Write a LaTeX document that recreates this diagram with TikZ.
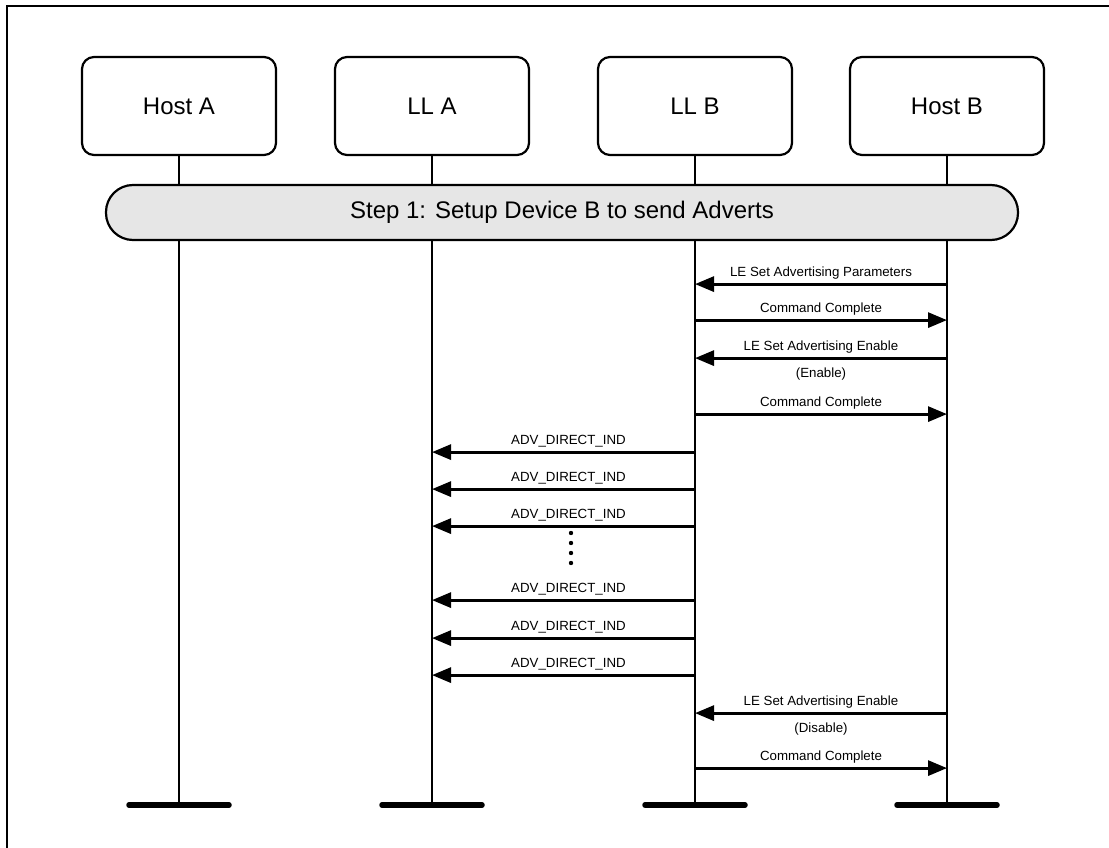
\documentclass[tikz,border=0pt]{standalone}
\usepackage{fontspec}
\setmainfont{Liberation Sans}
\usetikzlibrary{arrows.meta}
\definecolor{stepgray}{HTML}{E6E6E6}
\tikzset{
  actor/.style={draw, line width=2.2pt, rounded corners=12pt, minimum width=194pt, minimum height=98pt, inner sep=0pt, font=\fontsize{24}{28}\selectfont},
  stepbox/.style={draw, line width=2.2pt, fill=stepgray, rounded corners=27pt, minimum width=912pt, minimum height=55pt, inner sep=0pt, font=\fontsize{24}{28}\selectfont},
  life/.style={line width=2.2pt},
  endbar/.style={line width=5.5pt, line cap=round},
  msg/.style={line width=3pt, -{Triangle[length=19pt,width=15pt]}},
  lab/.style={font=\fontsize{13.3}{15}\selectfont, inner sep=0pt, anchor=base},
  frame/.style={line width=2.2pt}
}
\begin{document}
\begin{tikzpicture}[x=1pt,y=-1pt]
\useasboundingbox (0,0) rectangle (1109,848);
\draw[frame] (7,860) -- (7,6) -- (1120,6);
% actors
\node[actor] (hA) at (179,106) {Host A};
\node[actor] (lA) at (432,106) {LL A};
\node[actor] (lB) at (695,106) {LL B};
\node[actor] (hB) at (947,106) {Host B};
% lifeline ends
\coordinate (eA) at (179,805);
\coordinate (eLA) at (432,805);
\coordinate (eLB) at (695,805);
\coordinate (eB) at (947,805);
\draw[life] (hA.south) -- (eA);
\draw[life] (lA.south) -- (eLA);
\draw[life] (lB.south) -- (eLB);
\draw[life] (hB.south) -- (eB);
\draw[endbar] ([xshift=-50pt]eA) -- ([xshift=50pt]eA);
\draw[endbar] ([xshift=-50pt]eLA) -- ([xshift=50pt]eLA);
\draw[endbar] ([xshift=-50pt]eLB) -- ([xshift=50pt]eLB);
\draw[endbar] ([xshift=-50pt]eB) -- ([xshift=50pt]eB);
% step
\node[stepbox] (step) at (562,212.5) {Step 1: Setup Device B to send Adverts};
% messages Host B <-> LL B
\draw[msg] ([yshift=-128pt]hB.south) -- node[lab, yshift=8pt]{LE Set Advertising Parameters} ([yshift=-128pt]lB.south);
\draw[msg] ([yshift=-164pt]lB.south) -- node[lab, yshift=8pt]{Command Complete} ([yshift=-164pt]hB.south);
\draw[msg] ([yshift=-202pt]hB.south) -- node[lab, yshift=8pt]{LE Set Advertising Enable} node[lab, yshift=-19pt]{(Enable)} ([yshift=-202pt]lB.south);
\draw[msg] ([yshift=-258pt]lB.south) -- node[lab, yshift=8pt]{Command Complete} ([yshift=-258pt]hB.south);
% ADV_DIRECT_IND
\draw[msg] ([yshift=-296pt]lB.south) -- node[lab, yshift=8pt, xshift=5pt]{ADV\_DIRECT\_IND} ([yshift=-296pt]lA.south);
\draw[msg] ([yshift=-333pt]lB.south) -- node[lab, yshift=8pt, xshift=5pt]{ADV\_DIRECT\_IND} ([yshift=-333pt]lA.south);
\draw[msg] ([yshift=-370pt]lB.south) -- node[lab, yshift=8pt, xshift=5pt]{ADV\_DIRECT\_IND} ([yshift=-370pt]lA.south);
\foreach \yy in {533,543,553,563} \fill (571,\yy) circle (2.2pt);
\draw[msg] ([yshift=-444pt]lB.south) -- node[lab, yshift=8pt, xshift=5pt]{ADV\_DIRECT\_IND} ([yshift=-444pt]lA.south);
\draw[msg] ([yshift=-482pt]lB.south) -- node[lab, yshift=8pt, xshift=5pt]{ADV\_DIRECT\_IND} ([yshift=-482pt]lA.south);
\draw[msg] ([yshift=-519pt]lB.south) -- node[lab, yshift=8pt, xshift=5pt]{ADV\_DIRECT\_IND} ([yshift=-519pt]lA.south);
% disable
\draw[msg] ([yshift=-557pt]hB.south) -- node[lab, yshift=8pt]{LE Set Advertising Enable} node[lab, yshift=-19pt]{(Disable)} ([yshift=-557pt]lB.south);
\draw[msg] ([yshift=-612pt]lB.south) -- node[lab, yshift=8pt]{Command Complete} ([yshift=-612pt]hB.south);
\end{tikzpicture}
\end{document}
